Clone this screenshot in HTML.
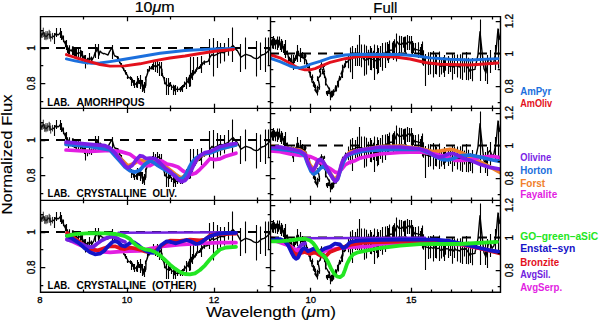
<!DOCTYPE html>
<html><head><meta charset="utf-8"><title>spectra</title>
<style>html,body{margin:0;padding:0;background:#fff;width:600px;height:321px;overflow:hidden}
svg{display:block}</style></head>
<body>
<svg width="600" height="321" viewBox="0 0 600 321">
<rect width="600" height="321" fill="#fff"/>
<defs>
<clipPath id="cl0"><rect x="40" y="16" width="230" height="92"/></clipPath>
<clipPath id="cr0"><rect x="270" y="16" width="230" height="92"/></clipPath>
<clipPath id="cl1"><rect x="40" y="108" width="230" height="92"/></clipPath>
<clipPath id="cr1"><rect x="270" y="108" width="230" height="92"/></clipPath>
<clipPath id="cl2"><rect x="40" y="200" width="230" height="92"/></clipPath>
<clipPath id="cr2"><rect x="270" y="200" width="230" height="92"/></clipPath>
</defs>
<line x1="40" y1="48.0" x2="270" y2="48.0" stroke="#000" stroke-width="2" stroke-dasharray="9 7"/>
<line x1="270" y1="53.6" x2="500" y2="53.6" stroke="#000" stroke-width="2" stroke-dasharray="9 7"/>
<line x1="40" y1="140.0" x2="270" y2="140.0" stroke="#000" stroke-width="2" stroke-dasharray="9 7"/>
<line x1="270" y1="145.6" x2="500" y2="145.6" stroke="#000" stroke-width="2" stroke-dasharray="9 7"/>
<line x1="40" y1="232.0" x2="270" y2="232.0" stroke="#000" stroke-width="2" stroke-dasharray="9 7"/>
<line x1="270" y1="237.6" x2="500" y2="237.6" stroke="#000" stroke-width="2" stroke-dasharray="9 7"/>
<g clip-path="url(#cl0)">
<path d="M40.0 31.5 L40.0 33.0 L41.6 35.3 L42.0 35.0 L43.3 32.4 L44.0 33.0 L44.7 36.0 L46.0 36.0 L46.0 36.7 L47.7 35.3 L48.0 34.0 L49.2 34.1 L50.0 36.0 L50.7 37.6 L52.0 37.0 L52.5 36.2 L53.5 37.0" fill="none" stroke="#000" stroke-width="1.2" stroke-linejoin="round"/>
<path d="M53.5 37.0 L54.0 36.0 L56.0 34.0 L56.1 33.5 L58.0 35.0 L59.0 34.3 L60.0 33.0 L62.0 35.8 L62.0 36.0 L63.0 38.9 L63.6 40.3 L65.3 44.0 L65.7 43.9 L67.1 49.1 L67.9 51.0 L68.0 51.7 L69.9 49.6 L70.0 50.3 L72.0 51.0 L72.0 49.5 L73.6 50.8 L75.0 52.0 L75.0 52.4 L76.7 53.9 L78.0 53.0 L78.9 52.7 L80.3 53.1 L81.0 54.5 L81.9 53.5 L83.0 56.0 L84.0 58.6 L85.0 58.4 L85.8 59.2 L87.7 61.0 L88.0 59.5 L89.7 57.6 L90.0 58.4 L91.5 59.8 L92.0 58.7 L92.0 60.1 L94.0 56.2 L95.2 52.3 L96.0 51.7 L97.5 47.8 L98.1 51.3 L99.0 55.0 L100.0 51.1 L101.4 52.6 L103.8 53.8 L104.0 53.4 L106.5 54.3 L108.0 55.0 L109.3 52.1 L112.0 47.5 L112.2 48.4 L114.0 54.5 L115.0 56.2 L116.0 56.2 L117.7 57.6 L118.0 57.0 L119.3 61.3 L120.0 62.5 L121.2 65.0 L122.0 67.0 L123.9 69.0 L124.0 70.2 L125.4 72.2 L126.0 74.1 L126.3 73.5 L128.0 76.5 L127.5 77.4 L130.3 78.2 L130.0 78.0 L131.7 78.8 L132.6 80.7 L133.0 81.2 L134.0 83.5 L133.8 82.9 L136.0 84.3 L136.3 84.6 L138.0 80.4 L138.7 80.7 L139.0 83.5 L139.7 82.0 L141.0 80.4 L141.6 81.7 L142.0 85.8 L143.0 87.4 L143.9 87.0 L144.0 90.5 L145.0 85.0 L145.7 85.4 L146.0 79.6 L145.9 78.4 L147.0 75.0 L148.0 71.8 L148.0 71.7 L149.4 68.7 L150.0 68.7 L151.1 67.8 L152.0 66.4 L152.4 66.8 L154.0 65.6 L155.4 66.7 L156.0 66.4 L155.8 66.9 L157.9 64.9 L158.0 64.8 L159.0 65.0 L160.0 66.4 L161.9 69.4 L162.0 73.6 L162.2 74.7 L164.1 78.8 L164.0 78.6 L164.8 82.0 L166.0 84.3 L166.4 84.8 L168.0 85.7 L169.1 85.1 L170.0 82.9 L170.3 84.0 L171.9 87.4 L172.0 86.9 L173.6 87.2 L174.0 88.1 L174.8 88.5 L176.0 89.4 L177.4 89.1 L178.0 89.4 L177.6 89.2 L180.4 89.5 L180.0 88.5 L181.0 88.1 L182.0 87.9 L183.4 86.0 L184.0 85.7 L184.9 84.3 L185.0 84.3 L186.0 82.9 L188.0 81.4 L188.0 79.3 L189.5 77.0 L190.0 77.1 L191.2 75.6 L192.0 75.7 L192.3 75.1 L193.2 73.3 L194.0 73.6 L195.1 71.4 L196.0 70.7 L196.2 69.6 L198.0 68.6 L199.2 67.6 L200.0 66.4 L200.8 66.3 L202.0 63.6 L202.7 63.9 L204.1 62.6 L204.0 61.4 L204.5 62.2 L205.0 61.9 L206.0 62.0 L208.0 61.4 L208.6 60.5 L210.0 57.0 L212.0 54.3 L212.2 54.9 L214.0 55.7 L216.8 54.4 L218.0 53.6 L220.4 52.4 L224.0 52.9 L224.2 52.1 L227.9 50.6 L229.0 49.3 L232.7 45.8 L233.0 45.5 L236.6 50.2 L237.0 50.0 L240.7 56.6 L241.0 57.1 L245.3 54.5 L246.0 54.3 L250.0 55.6 L251.0 56.0 L253.6 57.8 L256.0 58.6 L258.3 58.1 L260.0 56.5 L261.8 55.0 L264.0 54.3 L266.2 53.0 L269.8 49.6 L270.0 48.6" fill="none" stroke="#000" stroke-width="1.4" stroke-linejoin="round"/>
<path d="M54.5 33.0V44.0 M56.5 28.0V37.0 M60.5 28.0V38.0 M61.5 31.0V40.0 M66.5 40.0V50.0 M72.5 47.0V55.0 M74.5 48.0V56.0 M76.5 48.0V56.0 M78.5 49.0V57.0 M80.5 50.0V58.0 M82.5 51.0V59.0 M85.5 55.0V68.6 M95.5 44.0V58.0 M98.5 44.0V59.0 M112.5 45.0V59.0 M131.5 78.0V86.0 M134.5 80.0V88.0 M137.5 76.0V88.0 M140.5 75.0V89.0 M142.5 80.0V92.0 M144.5 82.0V93.0 M153.5 60.0V70.0 M155.5 62.0V72.0 M157.5 60.0V73.0 M159.5 62.0V76.0 M161.5 62.0V76.0 M166.5 78.0V95.0 M168.5 78.0V95.0 M173.5 85.0V95.0 M175.5 85.0V95.0 M182.5 85.0V92.0 M186.5 77.0V89.0 M189.5 75.0V87.0 M192.5 70.0V80.0 M190.5 57.0V86.4 M193.5 57.0V75.0 M197.5 57.0V68.0 M201.5 56.0V73.0 M209.5 39.0V65.0 M213.5 38.0V76.4 M217.5 41.0V67.9 M220.5 43.0V63.6 M224.5 43.0V61.4 M228.5 38.0V55.7 M232.5 27.4V62.1 M240.5 43.9V72.0 M245.5 37.4V69.3 M256.5 41.0V76.4 M260.5 42.4V70.0 M265.5 37.4V72.0 M268.5 37.4V65.0 M63.5 35.5V42.2 M65.5 40.7V47.3 M67.5 45.2V52.9 M68.5 47.5V56.0 M69.5 45.2V53.9 M72.5 46.3V52.7 M73.5 46.4V55.2 M75.5 48.4V56.4 M76.5 50.5V57.4 M78.5 49.1V56.4 M80.5 49.4V56.8 M81.5 50.6V56.4 M84.5 55.3V61.9 M85.5 55.7V62.8 M87.5 57.7V64.2 M89.5 53.0V62.3 M91.5 56.6V63.0 M117.5 55.9V59.3 M119.5 59.3V63.3 M121.5 63.1V66.8 M123.5 67.4V70.6 M125.5 70.1V74.2 M126.5 71.9V75.1 M127.5 75.6V79.1 M130.5 76.3V80.1 M131.5 77.0V80.6 M132.5 78.7V82.7 M133.5 80.0V85.8 M136.5 81.8V87.5 M138.5 78.0V83.4 M139.5 80.1V83.9 M141.5 79.9V83.5 M143.5 84.5V89.5 M145.5 83.2V87.7 M145.5 76.6V80.2 M147.5 68.9V74.6 M149.5 65.9V71.4 M151.5 66.2V69.5 M152.5 64.1V69.4 M155.5 65.3V68.0 M155.5 65.1V68.6 M157.5 62.8V67.0 M159.5 63.5V66.5 M161.5 66.6V72.1 M162.5 72.9V76.6 M164.5 76.9V80.7 M164.5 79.8V84.3 M166.5 83.2V86.4 M169.5 83.1V87.0 M170.5 82.1V85.9 M171.5 84.9V89.9 M173.5 84.8V89.7 M174.5 85.7V91.3 M177.5 86.5V91.7 M177.5 86.5V91.9 M180.5 87.0V91.9 M181.5 85.9V90.4 M183.5 84.6V87.4 M184.5 82.7V85.9 M184.5 81.6V87.0 M188.5 79.1V83.6 M189.5 74.8V79.1 M191.5 72.7V78.4 M192.5 72.4V77.8 M193.5 70.9V75.6 M195.5 69.4V73.4 M196.5 67.5V71.7 M199.5 66.0V69.1 M200.5 64.2V68.5 M202.5 62.3V65.4 M204.5 60.5V64.8 M204.5 60.5V64.0" stroke="#000" stroke-width="1.1" fill="none"/>
<path d="M42.0 30.0V38.0 M46.0 31.0V39.0 M50.0 31.0V39.0 M40.0 28.5V34.6 M41.6 33.1V37.4 M43.3 27.7V37.1 M44.7 32.2V39.8 M46.0 33.2V40.2 M47.7 31.2V39.4 M49.2 29.8V38.5 M50.7 33.6V41.6 M52.5 32.9V39.4" stroke="#1a1a1a" stroke-width="0.9" fill="none"/>
</g>
<g clip-path="url(#cr0)">
<path d="M270.0 43.9 L270.0 43.0 L271.2 42.9 L272.0 40.0 L272.2 43.5 L273.0 42.3 L274.0 45.0 L274.0 41.5 L275.2 44.5 L276.0 41.0 L276.1 42.0 L277.2 42.0 L278.0 46.0 L278.4 43.8 L279.4 41.1 L280.0 42.0 L280.6 46.6 L281.5 44.0 L282.0 48.0 L282.5 44.3 L283.4 49.5 L284.0 48.0 L284.0 47.0 L285.0 53.1 L285.0 52.0 L286.3 52.6 L287.3 52.7 L288.0 55.0 L288.6 58.5 L289.7 58.9 L290.0 60.8 L290.0 59.3 L291.5 58.9 L292.0 61.4 L293.0 65.7 L293.0 64.7 L294.3 60.3 L295.0 58.6 L295.4 58.2 L296.4 55.9 L297.0 51.4 L297.6 53.2 L298.9 53.2 L299.0 55.7 L300.2 56.2 L301.0 53.6 L301.7 55.4 L303.0 55.2 L303.0 57.0 L304.2 58.9 L305.9 55.9 L305.0 56.0 L304.3 58.4 L306.0 60.0 L307.2 65.5 L306.5 63.3 L307.5 66.0 L309.5 68.6 L309.0 72.0 L310.3 73.7 L310.0 74.3 L310.5 77.0 L312.7 77.2 L312.0 78.3 L312.0 82.0 L313.9 83.4 L313.5 86.0 L314.1 85.1 L315.8 87.6 L315.0 90.0 L317.1 93.1 L317.4 89.1 L316.5 91.5 L317.8 91.7 L317.9 90.7 L318.0 88.0 L319.5 87.0 L319.0 83.0 L317.9 78.6 L320.0 76.0 L320.8 73.8 L319.6 70.7 L321.0 69.0 L320.1 66.3 L322.0 65.0 L321.6 64.9 L324.5 65.2 L323.0 67.0 L323.3 67.9 L324.5 72.0 L322.7 71.6 L324.6 75.7 L326.0 79.0 L325.9 81.8 L325.6 83.0 L327.5 86.0 L329.7 90.1 L326.6 92.8 L329.0 92.0 L328.0 93.4 L330.1 93.5 L330.5 94.5 L330.6 96.9 L332.0 93.5 L331.1 94.1 L332.1 93.8 L333.5 95.0 L333.5 93.4 L333.6 92.1 L335.0 91.0 L335.5 87.2 L335.3 89.5 L336.2 89.0 L337.0 86.0 L338.2 84.5 L337.7 83.2 L339.0 80.0 L339.3 78.2 L340.3 78.6 L342.3 74.7 L341.0 74.0 L342.6 69.9 L342.8 72.0 L343.0 69.0 L342.8 67.8 L345.3 65.6 L344.6 66.0 L345.0 64.5 L344.3 65.8 L345.9 62.1 L347.0 61.5 L345.7 63.0 L348.0 61.4 L349.0 59.5 L350.5 59.8 L351.0 58.0 L352.4 58.3 L353.0 57.0 L355.1 56.9 L356.0 55.9 L357.8 54.8 L359.8 56.1 L360.0 55.7 L362.0 55.9 L363.0 57.9 L364.5 60.1 L366.0 60.0 L366.6 60.1 L368.8 57.7 L370.0 58.6 L371.2 59.1 L373.6 59.4 L375.0 60.7 L376.2 60.4 L378.3 60.5 L380.0 59.3 L380.8 57.3 L382.7 56.8 L385.0 53.8 L385.0 54.3 L387.5 51.2 L390.0 49.9 L390.0 50.7 L392.4 49.9 L394.6 46.6 L395.0 47.1 L396.8 42.0 L397.0 41.7 L399.2 44.5 L400.0 44.3 L401.5 44.4 L403.7 42.6 L405.0 43.6 L405.6 44.5 L407.4 42.6 L409.7 41.7 L410.0 41.7 L411.6 44.8 L413.0 48.0 L413.6 47.9 L415.0 50.0 L415.7 49.3 L418.4 50.1 L420.0 50.7 L420.9 51.9 L422.0 52.9 L423.0 55.0 L424.0 58.0 L425.0 62.9 L425.9 62.9 L428.0 63.7 L430.0 64.3 L430.5 63.2 L433.2 64.3 L435.0 63.6 L435.1 62.3 L437.0 64.6 L439.1 64.1 L440.0 65.7 L441.4 66.8 L443.3 64.9 L445.0 65.0 L445.5 64.6 L448.3 64.9 L450.0 66.4 L450.6 65.1 L452.9 67.3 L455.0 64.3 L455.0 65.7 L457.3 66.0 L460.0 67.1 L460.0 66.5 L462.0 64.8 L464.6 65.5 L465.0 64.3 L466.5 65.7 L468.9 69.1 L470.0 71.4 L470.8 70.1 L472.7 69.7 L475.0 69.4 L475.0 68.6 L477.8 55.6 L478.0 54.3 L480.0 31.7 L480.6 37.7 L482.0 51.4 L483.3 63.0 L484.0 68.6 L486.0 72.9 L486.1 72.0 L488.0 61.4 L488.2 60.5 L490.0 58.6 L490.9 60.6 L492.0 64.3 L493.6 62.1 L494.0 61.4 L495.7 52.3 L496.0 51.4 L498.0 29.0 L498.5 32.8 L500.0 40.0" fill="none" stroke="#000" stroke-width="1.4" stroke-linejoin="round"/>
<path d="M273.5 36.0V49.0 M277.5 37.0V50.0 M281.5 39.0V52.0 M285.5 40.0V58.0 M293.5 55.0V70.0 M297.5 45.0V62.0 M300.5 48.0V62.0 M352.5 46.0V79.0 M357.5 45.0V66.0 M359.5 35.0V66.0 M364.5 44.6V75.7 M370.5 46.0V70.0 M374.5 44.6V80.0 M377.5 45.3V74.3 M380.5 46.0V67.0 M385.5 42.4V67.9 M388.5 43.9V62.9 M393.5 41.0V60.0 M396.5 34.0V61.4 M399.5 39.6V55.0 M401.5 36.0V52.0 M404.5 36.7V52.0 M409.5 36.0V50.0 M412.5 41.0V55.0 M415.5 43.0V54.0 M418.5 43.0V56.0 M421.5 44.0V57.0 M425.5 54.0V86.0 M435.5 53.0V74.0 M444.5 55.0V77.0 M452.5 54.0V78.0 M462.5 53.0V80.0 M466.5 52.0V80.0 M480.5 19.6V81.0 M485.5 60.0V81.0 M487.5 55.0V84.0 M490.5 50.0V73.0 M495.5 45.0V70.0 M498.5 29.0V68.6 M270.5 39.1V48.6 M271.5 40.4V45.4 M272.5 38.4V48.6 M273.5 38.3V46.3 M274.5 38.3V44.8 M275.5 39.7V49.2 M276.5 39.6V44.4 M277.5 36.6V47.3 M278.5 39.8V47.8 M279.5 36.6V45.5 M280.5 43.1V50.1 M281.5 40.7V47.3 M282.5 40.8V47.7 M283.5 46.2V52.9 M284.5 44.0V52.0 M284.5 51.3V54.9 M286.5 50.8V54.5 M287.5 50.5V54.9 M288.5 55.9V61.0 M289.5 56.8V60.9 M290.5 58.3V63.3 M291.5 54.6V63.1 M293.5 60.7V68.8 M294.5 57.7V63.0 M295.5 55.3V61.1 M296.5 52.3V59.5 M297.5 49.4V56.9 M298.5 50.7V55.7 M300.5 51.6V60.8 M301.5 52.7V58.1 M302.5 51.9V58.5 M304.5 53.6V64.2 M305.5 53.5V58.3 M304.5 56.1V60.6 M307.5 63.1V68.0 M306.5 60.3V66.3 M309.5 65.6V71.5 M310.5 71.5V75.9 M310.5 71.4V77.2 M312.5 74.5V80.0 M311.5 76.3V80.3 M313.5 80.7V86.2 M314.5 82.3V88.0 M315.5 84.4V90.7 M317.5 90.7V95.6 M317.5 85.8V92.3 M317.5 88.9V94.6 M317.5 87.9V93.4 M319.5 84.3V89.7 M317.5 76.2V80.9 M320.5 71.1V76.5 M319.5 69.1V72.3 M320.5 64.4V68.1 M321.5 62.3V67.6 M324.5 63.7V66.7 M323.5 66.2V69.6 M322.5 68.9V74.2 M324.5 73.1V78.3 M325.5 78.7V84.8 M325.5 80.4V85.6 M329.5 87.5V92.8 M326.5 91.1V94.5 M327.5 90.7V96.1 M330.5 91.6V95.4 M330.5 93.6V100.2 M331.5 90.8V97.4 M332.5 90.5V97.2 M333.5 91.7V95.2 M333.5 89.2V95.1 M335.5 85.2V89.2 M335.5 87.5V91.5 M336.5 86.3V91.6 M338.5 81.6V87.4 M337.5 80.7V85.7 M339.5 75.8V80.5 M340.5 77.0V80.2 M342.5 71.5V77.9 M342.5 67.6V72.2 M342.5 69.6V74.4 M342.5 64.7V70.9 M345.5 64.0V67.3 M344.5 63.9V68.0 M344.5 63.4V68.2 M345.5 60.4V63.9 M345.5 61.0V64.9 M348.5 54.6V68.2 M350.5 47.4V72.2 M352.5 46.4V70.3 M355.5 47.9V65.9 M357.5 44.7V64.8 M359.5 48.6V63.6 M361.5 44.5V67.2 M364.5 49.9V70.2 M366.5 45.7V74.4 M368.5 49.8V65.5 M371.5 48.0V70.3 M373.5 50.7V68.1 M376.5 51.9V69.0 M378.5 48.0V73.0 M380.5 49.9V64.6 M382.5 43.0V70.7 M385.5 49.4V58.1 M387.5 42.0V60.4 M389.5 40.6V59.2 M392.5 42.4V57.4 M394.5 39.2V54.0 M396.5 33.5V50.6 M399.5 35.8V53.2 M401.5 36.3V52.5 M403.5 37.3V47.8 M405.5 36.4V52.7 M407.5 35.1V50.0 M409.5 36.7V46.7 M411.5 36.0V53.6 M413.5 42.8V52.9 M415.5 44.9V53.7 M418.5 42.3V57.9 M420.5 47.1V56.7 M422.5 41.5V64.4 M423.5 50.3V65.7 M425.5 54.1V71.6 M428.5 52.2V75.1 M430.5 52.2V74.3 M433.5 51.0V77.6 M435.5 53.2V71.4 M436.5 54.7V74.5 M439.5 51.4V76.9 M441.5 59.0V74.6 M443.5 57.0V72.8 M445.5 58.3V70.8 M448.5 55.9V74.0 M450.5 58.3V71.9 M452.5 54.8V79.7 M454.5 54.6V73.9 M457.5 54.5V77.4 M460.5 54.3V78.7 M462.5 58.1V71.5 M464.5 58.5V72.5 M466.5 56.5V74.9 M468.5 57.8V80.3 M470.5 61.3V78.9 M472.5 58.0V81.3" stroke="#000" stroke-width="1.1" fill="none"/>
<path d="" stroke="#1a1a1a" stroke-width="0.9" fill="none"/>
</g>
<g clip-path="url(#cl1)">
<path d="M40.0 123.5 L40.0 125.0 L41.6 127.3 L42.0 127.0 L43.3 124.4 L44.0 125.0 L44.7 128.0 L46.0 128.0 L46.0 128.7 L47.7 127.3 L48.0 126.0 L49.2 126.1 L50.0 128.0 L50.7 129.6 L52.0 129.0 L52.5 128.2 L53.5 129.0" fill="none" stroke="#000" stroke-width="1.2" stroke-linejoin="round"/>
<path d="M53.5 129.0 L54.0 128.0 L56.0 126.0 L56.1 125.5 L58.0 127.0 L59.0 126.3 L60.0 125.0 L62.0 127.8 L62.0 128.0 L63.0 130.9 L63.6 132.3 L65.3 136.0 L65.7 135.9 L67.1 141.1 L67.9 143.0 L68.0 143.7 L69.9 141.6 L70.0 142.3 L72.0 143.0 L72.0 141.5 L73.6 142.8 L75.0 144.0 L75.0 144.4 L76.7 145.9 L78.0 145.0 L78.9 144.7 L80.3 145.1 L81.0 146.5 L81.9 145.5 L83.0 148.0 L84.0 150.6 L85.0 150.4 L85.8 151.2 L87.7 153.0 L88.0 151.5 L89.7 149.6 L90.0 150.4 L91.5 151.8 L92.0 150.7 L92.0 152.1 L94.0 148.2 L95.2 144.3 L96.0 143.7 L97.5 139.8 L98.1 143.3 L99.0 147.0 L100.0 143.1 L101.4 144.6 L103.8 145.8 L104.0 145.4 L106.5 146.3 L108.0 147.0 L109.3 144.1 L112.0 139.5 L112.2 140.4 L114.0 146.5 L115.0 148.2 L116.0 148.2 L117.7 149.6 L118.0 149.0 L119.3 153.3 L120.0 154.5 L121.2 157.0 L122.0 159.0 L123.9 161.0 L124.0 162.2 L125.4 164.2 L126.0 166.1 L126.3 165.5 L128.0 168.5 L127.5 169.4 L130.3 170.2 L130.0 170.0 L131.7 170.8 L132.6 172.7 L133.0 173.2 L134.0 175.5 L133.8 174.9 L136.0 176.3 L136.3 176.6 L138.0 172.4 L138.7 172.7 L139.0 175.5 L139.7 174.0 L141.0 172.4 L141.6 173.7 L142.0 177.8 L143.0 179.4 L143.9 179.0 L144.0 182.5 L145.0 177.0 L145.7 177.4 L146.0 171.6 L145.9 170.4 L147.0 167.0 L148.0 163.8 L148.0 163.7 L149.4 160.7 L150.0 160.7 L151.1 159.8 L152.0 158.4 L152.4 158.8 L154.0 157.6 L155.4 158.7 L156.0 158.4 L155.8 158.9 L157.9 156.9 L158.0 156.8 L159.0 157.0 L160.0 158.4 L161.9 161.4 L162.0 165.6 L162.2 166.7 L164.1 170.8 L164.0 170.6 L164.8 174.0 L166.0 176.3 L166.4 176.8 L168.0 177.7 L169.1 177.1 L170.0 174.9 L170.3 176.0 L171.9 179.4 L172.0 178.9 L173.6 179.2 L174.0 180.1 L174.8 180.5 L176.0 181.4 L177.4 181.1 L178.0 181.4 L177.6 181.2 L180.4 181.5 L180.0 180.5 L181.0 180.1 L182.0 179.9 L183.4 178.0 L184.0 177.7 L184.9 176.3 L185.0 176.3 L186.0 174.9 L188.0 173.4 L188.0 171.3 L189.5 169.0 L190.0 169.1 L191.2 167.6 L192.0 167.7 L192.3 167.1 L193.2 165.3 L194.0 165.6 L195.1 163.4 L196.0 162.7 L196.2 161.6 L198.0 160.6 L199.2 159.6 L200.0 158.4 L200.8 158.3 L202.0 155.6 L202.7 155.9 L204.1 154.6 L204.0 153.4 L204.5 154.2 L205.0 153.9 L206.0 154.0 L208.0 153.4 L208.6 152.5 L210.0 149.0 L212.0 146.3 L212.2 146.9 L214.0 147.7 L216.8 146.4 L218.0 145.6 L220.4 144.4 L224.0 144.9 L224.2 144.1 L227.9 142.6 L229.0 141.3 L232.7 137.8 L233.0 137.5 L236.6 142.2 L237.0 142.0 L240.7 148.6 L241.0 149.1 L245.3 146.5 L246.0 146.3 L250.0 147.6 L251.0 148.0 L253.6 149.8 L256.0 150.6 L258.3 150.1 L260.0 148.5 L261.8 147.0 L264.0 146.3 L266.2 145.0 L269.8 141.6 L270.0 140.6" fill="none" stroke="#000" stroke-width="1.4" stroke-linejoin="round"/>
<path d="M54.5 125.0V136.0 M56.5 120.0V129.0 M60.5 120.0V130.0 M61.5 123.0V132.0 M66.5 132.0V142.0 M72.5 139.0V147.0 M74.5 140.0V148.0 M76.5 140.0V148.0 M78.5 141.0V149.0 M80.5 142.0V150.0 M82.5 143.0V151.0 M85.5 147.0V160.6 M95.5 136.0V150.0 M98.5 136.0V151.0 M112.5 137.0V151.0 M131.5 170.0V178.0 M134.5 172.0V180.0 M137.5 168.0V180.0 M140.5 167.0V181.0 M142.5 172.0V184.0 M144.5 174.0V185.0 M153.5 152.0V162.0 M155.5 154.0V164.0 M157.5 152.0V165.0 M159.5 154.0V168.0 M161.5 154.0V168.0 M166.5 170.0V187.0 M168.5 170.0V187.0 M173.5 177.0V187.0 M175.5 177.0V187.0 M182.5 177.0V184.0 M186.5 169.0V181.0 M189.5 167.0V179.0 M192.5 162.0V172.0 M190.5 149.0V178.4 M193.5 149.0V167.0 M197.5 149.0V160.0 M201.5 148.0V165.0 M209.5 131.0V157.0 M213.5 130.0V168.4 M217.5 133.0V159.9 M220.5 135.0V155.6 M224.5 135.0V153.4 M228.5 130.0V147.7 M232.5 119.4V154.1 M240.5 135.9V164.0 M245.5 129.4V161.3 M256.5 133.0V168.4 M260.5 134.4V162.0 M265.5 129.4V164.0 M268.5 129.4V157.0 M63.5 127.5V134.2 M65.5 132.7V139.3 M67.5 137.2V144.9 M68.5 139.5V148.0 M69.5 137.2V145.9 M72.5 138.3V144.7 M73.5 138.4V147.2 M75.5 140.4V148.4 M76.5 142.5V149.4 M78.5 141.1V148.4 M80.5 141.4V148.8 M81.5 142.6V148.4 M84.5 147.3V153.9 M85.5 147.7V154.8 M87.5 149.7V156.2 M89.5 145.0V154.3 M91.5 148.6V155.0 M117.5 147.9V151.3 M119.5 151.3V155.3 M121.5 155.1V158.8 M123.5 159.4V162.6 M125.5 162.1V166.2 M126.5 163.9V167.1 M127.5 167.6V171.1 M130.5 168.3V172.1 M131.5 169.0V172.6 M132.5 170.7V174.7 M133.5 172.0V177.8 M136.5 173.8V179.5 M138.5 170.0V175.4 M139.5 172.1V175.9 M141.5 171.9V175.5 M143.5 176.5V181.5 M145.5 175.2V179.7 M145.5 168.6V172.2 M147.5 160.9V166.6 M149.5 157.9V163.4 M151.5 158.2V161.5 M152.5 156.1V161.4 M155.5 157.3V160.0 M155.5 157.1V160.6 M157.5 154.8V159.0 M159.5 155.5V158.5 M161.5 158.6V164.1 M162.5 164.9V168.6 M164.5 168.9V172.7 M164.5 171.8V176.3 M166.5 175.2V178.4 M169.5 175.1V179.0 M170.5 174.1V177.9 M171.5 176.9V181.9 M173.5 176.8V181.7 M174.5 177.7V183.3 M177.5 178.5V183.7 M177.5 178.5V183.9 M180.5 179.0V183.9 M181.5 177.9V182.4 M183.5 176.6V179.4 M184.5 174.7V177.9 M184.5 173.6V179.0 M188.5 171.1V175.6 M189.5 166.8V171.1 M191.5 164.7V170.4 M192.5 164.4V169.8 M193.5 162.9V167.6 M195.5 161.4V165.4 M196.5 159.5V163.7 M199.5 158.0V161.1 M200.5 156.2V160.5 M202.5 154.3V157.4 M204.5 152.5V156.8 M204.5 152.5V156.0" stroke="#000" stroke-width="1.1" fill="none"/>
<path d="M42.0 122.0V130.0 M46.0 123.0V131.0 M50.0 123.0V131.0 M40.0 120.5V126.6 M41.6 125.1V129.4 M43.3 119.7V129.1 M44.7 124.2V131.8 M46.0 125.2V132.2 M47.7 123.2V131.4 M49.2 121.8V130.5 M50.7 125.6V133.6 M52.5 124.9V131.4" stroke="#1a1a1a" stroke-width="0.9" fill="none"/>
</g>
<g clip-path="url(#cr1)">
<path d="M270.0 135.9 L270.0 135.0 L271.2 134.9 L272.0 132.0 L272.2 135.5 L273.0 134.3 L274.0 137.0 L274.0 133.5 L275.2 136.5 L276.0 133.0 L276.1 134.0 L277.2 134.0 L278.0 138.0 L278.4 135.8 L279.4 133.1 L280.0 134.0 L280.6 138.6 L281.5 136.0 L282.0 140.0 L282.5 136.3 L283.4 141.5 L284.0 140.0 L284.0 139.0 L285.0 145.1 L285.0 144.0 L286.3 144.6 L287.3 144.7 L288.0 147.0 L288.6 150.5 L289.7 150.9 L290.0 152.8 L290.0 151.3 L291.5 150.9 L292.0 153.4 L293.0 157.7 L293.0 156.7 L294.3 152.3 L295.0 150.6 L295.4 150.2 L296.4 147.9 L297.0 143.4 L297.6 145.2 L298.9 145.2 L299.0 147.7 L300.2 148.2 L301.0 145.6 L301.7 147.4 L303.0 147.2 L303.0 149.0 L304.2 150.9 L305.9 147.9 L305.0 148.0 L304.3 150.4 L306.0 152.0 L307.2 157.5 L306.5 155.3 L307.5 158.0 L309.5 160.6 L309.0 164.0 L310.3 165.7 L310.0 166.3 L310.5 169.0 L312.7 169.2 L312.0 170.3 L312.0 174.0 L313.9 175.4 L313.5 178.0 L314.1 177.1 L315.8 179.6 L315.0 182.0 L317.1 185.1 L317.4 181.1 L316.5 183.5 L317.8 183.7 L317.9 182.7 L318.0 180.0 L319.5 179.0 L319.0 175.0 L317.9 170.6 L320.0 168.0 L320.8 165.8 L319.6 162.7 L321.0 161.0 L320.1 158.3 L322.0 157.0 L321.6 156.9 L324.5 157.2 L323.0 159.0 L323.3 159.9 L324.5 164.0 L322.7 163.6 L324.6 167.7 L326.0 171.0 L325.9 173.8 L325.6 175.0 L327.5 178.0 L329.7 182.1 L326.6 184.8 L329.0 184.0 L328.0 185.4 L330.1 185.5 L330.5 186.5 L330.6 188.9 L332.0 185.5 L331.1 186.1 L332.1 185.8 L333.5 187.0 L333.5 185.4 L333.6 184.1 L335.0 183.0 L335.5 179.2 L335.3 181.5 L336.2 181.0 L337.0 178.0 L338.2 176.5 L337.7 175.2 L339.0 172.0 L339.3 170.2 L340.3 170.6 L342.3 166.7 L341.0 166.0 L342.6 161.9 L342.8 164.0 L343.0 161.0 L342.8 159.8 L345.3 157.6 L344.6 158.0 L345.0 156.5 L344.3 157.8 L345.9 154.1 L347.0 153.5 L345.7 155.0 L348.0 153.4 L349.0 151.5 L350.5 151.8 L351.0 150.0 L352.4 150.3 L353.0 149.0 L355.1 148.9 L356.0 147.9 L357.8 146.8 L359.8 148.1 L360.0 147.7 L362.0 147.9 L363.0 149.9 L364.5 152.1 L366.0 152.0 L366.6 152.1 L368.8 149.7 L370.0 150.6 L371.2 151.1 L373.6 151.4 L375.0 152.7 L376.2 152.4 L378.3 152.5 L380.0 151.3 L380.8 149.3 L382.7 148.8 L385.0 145.8 L385.0 146.3 L387.5 143.2 L390.0 141.9 L390.0 142.7 L392.4 141.9 L394.6 138.6 L395.0 139.1 L396.8 134.0 L397.0 133.7 L399.2 136.5 L400.0 136.3 L401.5 136.4 L403.7 134.6 L405.0 135.6 L405.6 136.5 L407.4 134.6 L409.7 133.7 L410.0 133.7 L411.6 136.8 L413.0 140.0 L413.6 139.9 L415.0 142.0 L415.7 141.3 L418.4 142.1 L420.0 142.7 L420.9 143.9 L422.0 144.9 L423.0 147.0 L424.0 150.0 L425.0 154.9 L425.9 154.9 L428.0 155.7 L430.0 156.3 L430.5 155.2 L433.2 156.3 L435.0 155.6 L435.1 154.3 L437.0 156.6 L439.1 156.1 L440.0 157.7 L441.4 158.8 L443.3 156.9 L445.0 157.0 L445.5 156.6 L448.3 156.9 L450.0 158.4 L450.6 157.1 L452.9 159.3 L455.0 156.3 L455.0 157.7 L457.3 158.0 L460.0 159.1 L460.0 158.5 L462.0 156.8 L464.6 157.5 L465.0 156.3 L466.5 157.7 L468.9 161.1 L470.0 163.4 L470.8 162.1 L472.7 161.7 L475.0 161.4 L475.0 160.6 L477.8 147.6 L478.0 146.3 L480.0 123.7 L480.6 129.7 L482.0 143.4 L483.3 155.0 L484.0 160.6 L486.0 164.9 L486.1 164.0 L488.0 153.4 L488.2 152.5 L490.0 150.6 L490.9 152.6 L492.0 156.3 L493.6 154.1 L494.0 153.4 L495.7 144.3 L496.0 143.4 L498.0 121.0 L498.5 124.8 L500.0 132.0" fill="none" stroke="#000" stroke-width="1.4" stroke-linejoin="round"/>
<path d="M273.5 128.0V141.0 M277.5 129.0V142.0 M281.5 131.0V144.0 M285.5 132.0V150.0 M293.5 147.0V162.0 M297.5 137.0V154.0 M300.5 140.0V154.0 M352.5 138.0V171.0 M357.5 137.0V158.0 M359.5 127.0V158.0 M364.5 136.6V167.7 M370.5 138.0V162.0 M374.5 136.6V172.0 M377.5 137.3V166.3 M380.5 138.0V159.0 M385.5 134.4V159.9 M388.5 135.9V154.9 M393.5 133.0V152.0 M396.5 126.0V153.4 M399.5 131.6V147.0 M401.5 128.0V144.0 M404.5 128.7V144.0 M409.5 128.0V142.0 M412.5 133.0V147.0 M415.5 135.0V146.0 M418.5 135.0V148.0 M421.5 136.0V149.0 M425.5 146.0V178.0 M435.5 145.0V166.0 M444.5 147.0V169.0 M452.5 146.0V170.0 M462.5 145.0V172.0 M466.5 144.0V172.0 M480.5 111.6V173.0 M485.5 152.0V173.0 M487.5 147.0V176.0 M490.5 142.0V165.0 M495.5 137.0V162.0 M498.5 121.0V160.6 M270.5 131.1V140.6 M271.5 132.4V137.4 M272.5 130.4V140.6 M273.5 130.3V138.3 M274.5 130.3V136.8 M275.5 131.7V141.2 M276.5 131.6V136.4 M277.5 128.6V139.3 M278.5 131.8V139.8 M279.5 128.6V137.5 M280.5 135.1V142.1 M281.5 132.7V139.3 M282.5 132.8V139.7 M283.5 138.2V144.9 M284.5 136.0V144.0 M284.5 143.3V146.9 M286.5 142.8V146.5 M287.5 142.5V146.9 M288.5 147.9V153.0 M289.5 148.8V152.9 M290.5 150.3V155.3 M291.5 146.6V155.1 M293.5 152.7V160.8 M294.5 149.7V155.0 M295.5 147.3V153.1 M296.5 144.3V151.5 M297.5 141.4V148.9 M298.5 142.7V147.7 M300.5 143.6V152.8 M301.5 144.7V150.1 M302.5 143.9V150.5 M304.5 145.6V156.2 M305.5 145.5V150.3 M304.5 148.1V152.6 M307.5 155.1V160.0 M306.5 152.3V158.3 M309.5 157.6V163.5 M310.5 163.5V167.9 M310.5 163.4V169.2 M312.5 166.5V172.0 M311.5 168.3V172.3 M313.5 172.7V178.2 M314.5 174.3V180.0 M315.5 176.4V182.7 M317.5 182.7V187.6 M317.5 177.8V184.3 M317.5 180.9V186.6 M317.5 179.9V185.4 M319.5 176.3V181.7 M317.5 168.2V172.9 M320.5 163.1V168.5 M319.5 161.1V164.3 M320.5 156.4V160.1 M321.5 154.3V159.6 M324.5 155.7V158.7 M323.5 158.2V161.6 M322.5 160.9V166.2 M324.5 165.1V170.3 M325.5 170.7V176.8 M325.5 172.4V177.6 M329.5 179.5V184.8 M326.5 183.1V186.5 M327.5 182.7V188.1 M330.5 183.6V187.4 M330.5 185.6V192.2 M331.5 182.8V189.4 M332.5 182.5V189.2 M333.5 183.7V187.2 M333.5 181.2V187.1 M335.5 177.2V181.2 M335.5 179.5V183.5 M336.5 178.3V183.6 M338.5 173.6V179.4 M337.5 172.7V177.7 M339.5 167.8V172.5 M340.5 169.0V172.2 M342.5 163.5V169.9 M342.5 159.6V164.2 M342.5 161.6V166.4 M342.5 156.7V162.9 M345.5 156.0V159.3 M344.5 155.9V160.0 M344.5 155.4V160.2 M345.5 152.4V155.9 M345.5 153.0V156.9 M348.5 146.6V160.2 M350.5 139.4V164.2 M352.5 138.4V162.3 M355.5 139.9V157.9 M357.5 136.7V156.8 M359.5 140.6V155.6 M361.5 136.5V159.2 M364.5 141.9V162.2 M366.5 137.7V166.4 M368.5 141.8V157.5 M371.5 140.0V162.3 M373.5 142.7V160.1 M376.5 143.9V161.0 M378.5 140.0V165.0 M380.5 141.9V156.6 M382.5 135.0V162.7 M385.5 141.4V150.1 M387.5 134.0V152.4 M389.5 132.6V151.2 M392.5 134.4V149.4 M394.5 131.2V146.0 M396.5 125.5V142.6 M399.5 127.8V145.2 M401.5 128.3V144.5 M403.5 129.3V139.8 M405.5 128.4V144.7 M407.5 127.1V142.0 M409.5 128.7V138.7 M411.5 128.0V145.6 M413.5 134.8V144.9 M415.5 136.9V145.7 M418.5 134.3V149.9 M420.5 139.1V148.7 M422.5 133.5V156.4 M423.5 142.3V157.7 M425.5 146.1V163.6 M428.5 144.2V167.1 M430.5 144.2V166.3 M433.5 143.0V169.6 M435.5 145.2V163.4 M436.5 146.7V166.5 M439.5 143.4V168.9 M441.5 151.0V166.6 M443.5 149.0V164.8 M445.5 150.3V162.8 M448.5 147.9V166.0 M450.5 150.3V163.9 M452.5 146.8V171.7 M454.5 146.6V165.9 M457.5 146.5V169.4 M460.5 146.3V170.7 M462.5 150.1V163.5 M464.5 150.5V164.5 M466.5 148.5V166.9 M468.5 149.8V172.3 M470.5 153.3V170.9 M472.5 150.0V173.3" stroke="#000" stroke-width="1.1" fill="none"/>
<path d="" stroke="#1a1a1a" stroke-width="0.9" fill="none"/>
</g>
<g clip-path="url(#cl2)">
<path d="M40.0 215.5 L40.0 217.0 L41.6 219.3 L42.0 219.0 L43.3 216.4 L44.0 217.0 L44.7 220.0 L46.0 220.0 L46.0 220.7 L47.7 219.3 L48.0 218.0 L49.2 218.1 L50.0 220.0 L50.7 221.6 L52.0 221.0 L52.5 220.2 L53.5 221.0" fill="none" stroke="#000" stroke-width="1.2" stroke-linejoin="round"/>
<path d="M53.5 221.0 L54.0 220.0 L56.0 218.0 L56.1 217.5 L58.0 219.0 L59.0 218.3 L60.0 217.0 L62.0 219.8 L62.0 220.0 L63.0 222.9 L63.6 224.3 L65.3 228.0 L65.7 227.9 L67.1 233.1 L67.9 235.0 L68.0 235.7 L69.9 233.6 L70.0 234.3 L72.0 235.0 L72.0 233.5 L73.6 234.8 L75.0 236.0 L75.0 236.4 L76.7 237.9 L78.0 237.0 L78.9 236.7 L80.3 237.1 L81.0 238.5 L81.9 237.5 L83.0 240.0 L84.0 242.6 L85.0 242.4 L85.8 243.2 L87.7 245.0 L88.0 243.5 L89.7 241.6 L90.0 242.4 L91.5 243.8 L92.0 242.7 L92.0 244.1 L94.0 240.2 L95.2 236.3 L96.0 235.7 L97.5 231.8 L98.1 235.3 L99.0 239.0 L100.0 235.1 L101.4 236.6 L103.8 237.8 L104.0 237.4 L106.5 238.3 L108.0 239.0 L109.3 236.1 L112.0 231.5 L112.2 232.4 L114.0 238.5 L115.0 240.2 L116.0 240.2 L117.7 241.6 L118.0 241.0 L119.3 245.3 L120.0 246.5 L121.2 249.0 L122.0 251.0 L123.9 253.0 L124.0 254.2 L125.4 256.2 L126.0 258.1 L126.3 257.5 L128.0 260.5 L127.5 261.4 L130.3 262.2 L130.0 262.0 L131.7 262.8 L132.6 264.7 L133.0 265.2 L134.0 267.5 L133.8 266.9 L136.0 268.3 L136.3 268.6 L138.0 264.4 L138.7 264.7 L139.0 267.5 L139.7 266.0 L141.0 264.4 L141.6 265.7 L142.0 269.8 L143.0 271.4 L143.9 271.0 L144.0 274.5 L145.0 269.0 L145.7 269.4 L146.0 263.6 L145.9 262.4 L147.0 259.0 L148.0 255.8 L148.0 255.7 L149.4 252.7 L150.0 252.7 L151.1 251.8 L152.0 250.4 L152.4 250.8 L154.0 249.6 L155.4 250.7 L156.0 250.4 L155.8 250.9 L157.9 248.9 L158.0 248.8 L159.0 249.0 L160.0 250.4 L161.9 253.4 L162.0 257.6 L162.2 258.7 L164.1 262.8 L164.0 262.6 L164.8 266.0 L166.0 268.3 L166.4 268.8 L168.0 269.7 L169.1 269.1 L170.0 266.9 L170.3 268.0 L171.9 271.4 L172.0 270.9 L173.6 271.2 L174.0 272.1 L174.8 272.5 L176.0 273.4 L177.4 273.1 L178.0 273.4 L177.6 273.2 L180.4 273.5 L180.0 272.5 L181.0 272.1 L182.0 271.9 L183.4 270.0 L184.0 269.7 L184.9 268.3 L185.0 268.3 L186.0 266.9 L188.0 265.4 L188.0 263.3 L189.5 261.0 L190.0 261.1 L191.2 259.6 L192.0 259.7 L192.3 259.1 L193.2 257.3 L194.0 257.6 L195.1 255.4 L196.0 254.7 L196.2 253.6 L198.0 252.6 L199.2 251.6 L200.0 250.4 L200.8 250.3 L202.0 247.6 L202.7 247.9 L204.1 246.6 L204.0 245.4 L204.5 246.2 L205.0 245.9 L206.0 246.0 L208.0 245.4 L208.6 244.5 L210.0 241.0 L212.0 238.3 L212.2 238.9 L214.0 239.7 L216.8 238.4 L218.0 237.6 L220.4 236.4 L224.0 236.9 L224.2 236.1 L227.9 234.6 L229.0 233.3 L232.7 229.8 L233.0 229.5 L236.6 234.2 L237.0 234.0 L240.7 240.6 L241.0 241.1 L245.3 238.5 L246.0 238.3 L250.0 239.6 L251.0 240.0 L253.6 241.8 L256.0 242.6 L258.3 242.1 L260.0 240.5 L261.8 239.0 L264.0 238.3 L266.2 237.0 L269.8 233.6 L270.0 232.6" fill="none" stroke="#000" stroke-width="1.4" stroke-linejoin="round"/>
<path d="M54.5 217.0V228.0 M56.5 212.0V221.0 M60.5 212.0V222.0 M61.5 215.0V224.0 M66.5 224.0V234.0 M72.5 231.0V239.0 M74.5 232.0V240.0 M76.5 232.0V240.0 M78.5 233.0V241.0 M80.5 234.0V242.0 M82.5 235.0V243.0 M85.5 239.0V252.6 M95.5 228.0V242.0 M98.5 228.0V243.0 M112.5 229.0V243.0 M131.5 262.0V270.0 M134.5 264.0V272.0 M137.5 260.0V272.0 M140.5 259.0V273.0 M142.5 264.0V276.0 M144.5 266.0V277.0 M153.5 244.0V254.0 M155.5 246.0V256.0 M157.5 244.0V257.0 M159.5 246.0V260.0 M161.5 246.0V260.0 M166.5 262.0V279.0 M168.5 262.0V279.0 M173.5 269.0V279.0 M175.5 269.0V279.0 M182.5 269.0V276.0 M186.5 261.0V273.0 M189.5 259.0V271.0 M192.5 254.0V264.0 M190.5 241.0V270.4 M193.5 241.0V259.0 M197.5 241.0V252.0 M201.5 240.0V257.0 M209.5 223.0V249.0 M213.5 222.0V260.4 M217.5 225.0V251.9 M220.5 227.0V247.6 M224.5 227.0V245.4 M228.5 222.0V239.7 M232.5 211.4V246.1 M240.5 227.9V256.0 M245.5 221.4V253.3 M256.5 225.0V260.4 M260.5 226.4V254.0 M265.5 221.4V256.0 M268.5 221.4V249.0 M63.5 219.5V226.2 M65.5 224.7V231.3 M67.5 229.2V236.9 M68.5 231.5V240.0 M69.5 229.2V237.9 M72.5 230.3V236.7 M73.5 230.4V239.2 M75.5 232.4V240.4 M76.5 234.5V241.4 M78.5 233.1V240.4 M80.5 233.4V240.8 M81.5 234.6V240.4 M84.5 239.3V245.9 M85.5 239.7V246.8 M87.5 241.7V248.2 M89.5 237.0V246.3 M91.5 240.6V247.0 M117.5 239.9V243.3 M119.5 243.3V247.3 M121.5 247.1V250.8 M123.5 251.4V254.6 M125.5 254.1V258.2 M126.5 255.9V259.1 M127.5 259.6V263.1 M130.5 260.3V264.1 M131.5 261.0V264.6 M132.5 262.7V266.7 M133.5 264.0V269.8 M136.5 265.8V271.5 M138.5 262.0V267.4 M139.5 264.1V267.9 M141.5 263.9V267.5 M143.5 268.5V273.5 M145.5 267.2V271.7 M145.5 260.6V264.2 M147.5 252.9V258.6 M149.5 249.9V255.4 M151.5 250.2V253.5 M152.5 248.1V253.4 M155.5 249.3V252.0 M155.5 249.1V252.6 M157.5 246.8V251.0 M159.5 247.5V250.5 M161.5 250.6V256.1 M162.5 256.9V260.6 M164.5 260.9V264.7 M164.5 263.8V268.3 M166.5 267.2V270.4 M169.5 267.1V271.0 M170.5 266.1V269.9 M171.5 268.9V273.9 M173.5 268.8V273.7 M174.5 269.7V275.3 M177.5 270.5V275.7 M177.5 270.5V275.9 M180.5 271.0V275.9 M181.5 269.9V274.4 M183.5 268.6V271.4 M184.5 266.7V269.9 M184.5 265.6V271.0 M188.5 263.1V267.6 M189.5 258.8V263.1 M191.5 256.7V262.4 M192.5 256.4V261.8 M193.5 254.9V259.6 M195.5 253.4V257.4 M196.5 251.5V255.7 M199.5 250.0V253.1 M200.5 248.2V252.5 M202.5 246.3V249.4 M204.5 244.5V248.8 M204.5 244.5V248.0" stroke="#000" stroke-width="1.1" fill="none"/>
<path d="M42.0 214.0V222.0 M46.0 215.0V223.0 M50.0 215.0V223.0 M40.0 212.5V218.6 M41.6 217.1V221.4 M43.3 211.7V221.1 M44.7 216.2V223.8 M46.0 217.2V224.2 M47.7 215.2V223.4 M49.2 213.8V222.5 M50.7 217.6V225.6 M52.5 216.9V223.4" stroke="#1a1a1a" stroke-width="0.9" fill="none"/>
</g>
<g clip-path="url(#cr2)">
<path d="M270.0 227.9 L270.0 227.0 L271.2 226.9 L272.0 224.0 L272.2 227.5 L273.0 226.3 L274.0 229.0 L274.0 225.5 L275.2 228.5 L276.0 225.0 L276.1 226.0 L277.2 226.0 L278.0 230.0 L278.4 227.8 L279.4 225.1 L280.0 226.0 L280.6 230.6 L281.5 228.0 L282.0 232.0 L282.5 228.3 L283.4 233.5 L284.0 232.0 L284.0 231.0 L285.0 237.1 L285.0 236.0 L286.3 236.6 L287.3 236.7 L288.0 239.0 L288.6 242.5 L289.7 242.9 L290.0 244.8 L290.0 243.3 L291.5 242.9 L292.0 245.4 L293.0 249.7 L293.0 248.7 L294.3 244.3 L295.0 242.6 L295.4 242.2 L296.4 239.9 L297.0 235.4 L297.6 237.2 L298.9 237.2 L299.0 239.7 L300.2 240.2 L301.0 237.6 L301.7 239.4 L303.0 239.2 L303.0 241.0 L304.2 242.9 L305.9 239.9 L305.0 240.0 L304.3 242.4 L306.0 244.0 L307.2 249.5 L306.5 247.3 L307.5 250.0 L309.5 252.6 L309.0 256.0 L310.3 257.7 L310.0 258.3 L310.5 261.0 L312.7 261.2 L312.0 262.3 L312.0 266.0 L313.9 267.4 L313.5 270.0 L314.1 269.1 L315.8 271.6 L315.0 274.0 L317.1 277.1 L317.4 273.1 L316.5 275.5 L317.8 275.7 L317.9 274.7 L318.0 272.0 L319.5 271.0 L319.0 267.0 L317.9 262.6 L320.0 260.0 L320.8 257.8 L319.6 254.7 L321.0 253.0 L320.1 250.3 L322.0 249.0 L321.6 248.9 L324.5 249.2 L323.0 251.0 L323.3 251.9 L324.5 256.0 L322.7 255.6 L324.6 259.7 L326.0 263.0 L325.9 265.8 L325.6 267.0 L327.5 270.0 L329.7 274.1 L326.6 276.8 L329.0 276.0 L328.0 277.4 L330.1 277.5 L330.5 278.5 L330.6 280.9 L332.0 277.5 L331.1 278.1 L332.1 277.8 L333.5 279.0 L333.5 277.4 L333.6 276.1 L335.0 275.0 L335.5 271.2 L335.3 273.5 L336.2 273.0 L337.0 270.0 L338.2 268.5 L337.7 267.2 L339.0 264.0 L339.3 262.2 L340.3 262.6 L342.3 258.7 L341.0 258.0 L342.6 253.9 L342.8 256.0 L343.0 253.0 L342.8 251.8 L345.3 249.6 L344.6 250.0 L345.0 248.5 L344.3 249.8 L345.9 246.1 L347.0 245.5 L345.7 247.0 L348.0 245.4 L349.0 243.5 L350.5 243.8 L351.0 242.0 L352.4 242.3 L353.0 241.0 L355.1 240.9 L356.0 239.9 L357.8 238.8 L359.8 240.1 L360.0 239.7 L362.0 239.9 L363.0 241.9 L364.5 244.1 L366.0 244.0 L366.6 244.1 L368.8 241.7 L370.0 242.6 L371.2 243.1 L373.6 243.4 L375.0 244.7 L376.2 244.4 L378.3 244.5 L380.0 243.3 L380.8 241.3 L382.7 240.8 L385.0 237.8 L385.0 238.3 L387.5 235.2 L390.0 233.9 L390.0 234.7 L392.4 233.9 L394.6 230.6 L395.0 231.1 L396.8 226.0 L397.0 225.7 L399.2 228.5 L400.0 228.3 L401.5 228.4 L403.7 226.6 L405.0 227.6 L405.6 228.5 L407.4 226.6 L409.7 225.7 L410.0 225.7 L411.6 228.8 L413.0 232.0 L413.6 231.9 L415.0 234.0 L415.7 233.3 L418.4 234.1 L420.0 234.7 L420.9 235.9 L422.0 236.9 L423.0 239.0 L424.0 242.0 L425.0 246.9 L425.9 246.9 L428.0 247.7 L430.0 248.3 L430.5 247.2 L433.2 248.3 L435.0 247.6 L435.1 246.3 L437.0 248.6 L439.1 248.1 L440.0 249.7 L441.4 250.8 L443.3 248.9 L445.0 249.0 L445.5 248.6 L448.3 248.9 L450.0 250.4 L450.6 249.1 L452.9 251.3 L455.0 248.3 L455.0 249.7 L457.3 250.0 L460.0 251.1 L460.0 250.5 L462.0 248.8 L464.6 249.5 L465.0 248.3 L466.5 249.7 L468.9 253.1 L470.0 255.4 L470.8 254.1 L472.7 253.7 L475.0 253.4 L475.0 252.6 L477.8 239.6 L478.0 238.3 L480.0 215.7 L480.6 221.7 L482.0 235.4 L483.3 247.0 L484.0 252.6 L486.0 256.9 L486.1 256.0 L488.0 245.4 L488.2 244.5 L490.0 242.6 L490.9 244.6 L492.0 248.3 L493.6 246.1 L494.0 245.4 L495.7 236.3 L496.0 235.4 L498.0 213.0 L498.5 216.8 L500.0 224.0" fill="none" stroke="#000" stroke-width="1.4" stroke-linejoin="round"/>
<path d="M273.5 220.0V233.0 M277.5 221.0V234.0 M281.5 223.0V236.0 M285.5 224.0V242.0 M293.5 239.0V254.0 M297.5 229.0V246.0 M300.5 232.0V246.0 M352.5 230.0V263.0 M357.5 229.0V250.0 M359.5 219.0V250.0 M364.5 228.6V259.7 M370.5 230.0V254.0 M374.5 228.6V264.0 M377.5 229.3V258.3 M380.5 230.0V251.0 M385.5 226.4V251.9 M388.5 227.9V246.9 M393.5 225.0V244.0 M396.5 218.0V245.4 M399.5 223.6V239.0 M401.5 220.0V236.0 M404.5 220.7V236.0 M409.5 220.0V234.0 M412.5 225.0V239.0 M415.5 227.0V238.0 M418.5 227.0V240.0 M421.5 228.0V241.0 M425.5 238.0V270.0 M435.5 237.0V258.0 M444.5 239.0V261.0 M452.5 238.0V262.0 M462.5 237.0V264.0 M466.5 236.0V264.0 M480.5 203.6V265.0 M485.5 244.0V265.0 M487.5 239.0V268.0 M490.5 234.0V257.0 M495.5 229.0V254.0 M498.5 213.0V252.6 M270.5 223.1V232.6 M271.5 224.4V229.4 M272.5 222.4V232.6 M273.5 222.3V230.3 M274.5 222.3V228.8 M275.5 223.7V233.2 M276.5 223.6V228.4 M277.5 220.6V231.3 M278.5 223.8V231.8 M279.5 220.6V229.5 M280.5 227.1V234.1 M281.5 224.7V231.3 M282.5 224.8V231.7 M283.5 230.2V236.9 M284.5 228.0V236.0 M284.5 235.3V238.9 M286.5 234.8V238.5 M287.5 234.5V238.9 M288.5 239.9V245.0 M289.5 240.8V244.9 M290.5 242.3V247.3 M291.5 238.6V247.1 M293.5 244.7V252.8 M294.5 241.7V247.0 M295.5 239.3V245.1 M296.5 236.3V243.5 M297.5 233.4V240.9 M298.5 234.7V239.7 M300.5 235.6V244.8 M301.5 236.7V242.1 M302.5 235.9V242.5 M304.5 237.6V248.2 M305.5 237.5V242.3 M304.5 240.1V244.6 M307.5 247.1V252.0 M306.5 244.3V250.3 M309.5 249.6V255.5 M310.5 255.5V259.9 M310.5 255.4V261.2 M312.5 258.5V264.0 M311.5 260.3V264.3 M313.5 264.7V270.2 M314.5 266.3V272.0 M315.5 268.4V274.7 M317.5 274.7V279.6 M317.5 269.8V276.3 M317.5 272.9V278.6 M317.5 271.9V277.4 M319.5 268.3V273.7 M317.5 260.2V264.9 M320.5 255.1V260.5 M319.5 253.1V256.3 M320.5 248.4V252.1 M321.5 246.3V251.6 M324.5 247.7V250.7 M323.5 250.2V253.6 M322.5 252.9V258.2 M324.5 257.1V262.3 M325.5 262.7V268.8 M325.5 264.4V269.6 M329.5 271.5V276.8 M326.5 275.1V278.5 M327.5 274.7V280.1 M330.5 275.6V279.4 M330.5 277.6V284.2 M331.5 274.8V281.4 M332.5 274.5V281.2 M333.5 275.7V279.2 M333.5 273.2V279.1 M335.5 269.2V273.2 M335.5 271.5V275.5 M336.5 270.3V275.6 M338.5 265.6V271.4 M337.5 264.7V269.7 M339.5 259.8V264.5 M340.5 261.0V264.2 M342.5 255.5V261.9 M342.5 251.6V256.2 M342.5 253.6V258.4 M342.5 248.7V254.9 M345.5 248.0V251.3 M344.5 247.9V252.0 M344.5 247.4V252.2 M345.5 244.4V247.9 M345.5 245.0V248.9 M348.5 238.6V252.2 M350.5 231.4V256.2 M352.5 230.4V254.3 M355.5 231.9V249.9 M357.5 228.7V248.8 M359.5 232.6V247.6 M361.5 228.5V251.2 M364.5 233.9V254.2 M366.5 229.7V258.4 M368.5 233.8V249.5 M371.5 232.0V254.3 M373.5 234.7V252.1 M376.5 235.9V253.0 M378.5 232.0V257.0 M380.5 233.9V248.6 M382.5 227.0V254.7 M385.5 233.4V242.1 M387.5 226.0V244.4 M389.5 224.6V243.2 M392.5 226.4V241.4 M394.5 223.2V238.0 M396.5 217.5V234.6 M399.5 219.8V237.2 M401.5 220.3V236.5 M403.5 221.3V231.8 M405.5 220.4V236.7 M407.5 219.1V234.0 M409.5 220.7V230.7 M411.5 220.0V237.6 M413.5 226.8V236.9 M415.5 228.9V237.7 M418.5 226.3V241.9 M420.5 231.1V240.7 M422.5 225.5V248.4 M423.5 234.3V249.7 M425.5 238.1V255.6 M428.5 236.2V259.1 M430.5 236.2V258.3 M433.5 235.0V261.6 M435.5 237.2V255.4 M436.5 238.7V258.5 M439.5 235.4V260.9 M441.5 243.0V258.6 M443.5 241.0V256.8 M445.5 242.3V254.8 M448.5 239.9V258.0 M450.5 242.3V255.9 M452.5 238.8V263.7 M454.5 238.6V257.9 M457.5 238.5V261.4 M460.5 238.3V262.7 M462.5 242.1V255.5 M464.5 242.5V256.5 M466.5 240.5V258.9 M468.5 241.8V264.3 M470.5 245.3V262.9 M472.5 242.0V265.3" stroke="#000" stroke-width="1.1" fill="none"/>
<path d="" stroke="#1a1a1a" stroke-width="0.9" fill="none"/>
</g>
<g clip-path="url(#cl0)"><polyline points="66.4,58.9 75.0,60.8 83.0,62.4 92.0,63.2 100.0,63.0 110.0,61.6 120.0,60.0 135.0,57.5 160.0,53.2 185.0,50.5 215.0,48.9 233.6,48.4" fill="none" stroke="#1b6fdd" stroke-width="2.9" stroke-linejoin="round" stroke-linecap="round"/>
<polyline points="66.4,54.6 75.0,57.5 88.6,61.4 100.0,64.5 110.0,66.1 125.0,65.9 140.0,63.8 155.0,60.6 170.0,58.0 185.0,56.0 200.0,53.5 215.0,51.2 233.6,49.5" fill="none" stroke="#e3101c" stroke-width="2.9" stroke-linejoin="round" stroke-linecap="round"/></g>
<g clip-path="url(#cr0)"><polyline points="270.0,54.7 280.0,57.8 290.0,63.2 295.0,66.3 300.0,68.7 305.0,69.8 310.0,69.8 315.0,68.6 330.0,62.4 345.0,58.7 360.0,56.4 380.0,56.6 395.0,57.0 410.0,59.0 425.0,62.5 440.0,64.3 470.0,65.0 498.0,63.0" fill="none" stroke="#e3101c" stroke-width="2.9" stroke-linejoin="round" stroke-linecap="round"/>
<polyline points="270.0,58.2 280.0,61.7 290.0,66.0 295.0,67.5 300.0,67.9 305.0,66.7 310.0,64.4 320.0,61.4 330.0,57.8 345.0,55.0 360.0,54.2 400.0,54.5 415.0,55.7 430.0,57.9 450.0,59.3 470.0,60.0 498.0,58.6" fill="none" stroke="#1b6fdd" stroke-width="2.9" stroke-linejoin="round" stroke-linecap="round"/></g>
<g clip-path="url(#cl1)"><polyline points="66.0,143.5 90.0,145.5 110.0,149.0 120.0,158.0 128.0,166.0 135.0,163.0 140.0,160.0 147.0,162.0 155.0,160.0 165.0,166.0 175.0,174.0 181.0,178.0 186.0,175.0 192.0,166.0 200.0,156.0 210.0,152.0 236.0,144.5" fill="none" stroke="#f0802a" stroke-width="3.7" stroke-linejoin="round" stroke-linecap="round"/>
<polyline points="66.0,150.0 90.0,151.4 110.0,150.5 120.0,151.4 130.0,154.3 135.0,157.9 140.0,162.9 145.0,165.7 150.0,165.7 155.0,162.9 158.0,160.5 162.0,161.0 167.0,164.0 172.0,165.0 178.0,167.0 183.0,171.0 188.0,173.6 192.0,174.3 196.0,172.9 200.0,169.3 205.0,164.3 210.0,158.6 215.0,159.7 220.0,158.9 225.0,156.5 236.0,153.2" fill="none" stroke="#e21ee2" stroke-width="3.7" stroke-linejoin="round" stroke-linecap="round"/>
<polyline points="66.0,144.3 90.0,146.4 110.0,150.0 115.0,155.7 120.0,161.4 125.0,167.1 130.0,170.7 135.0,172.1 140.0,170.0 145.0,164.3 150.0,160.7 153.0,162.1 158.0,165.7 163.0,168.6 170.0,172.9 175.0,175.5 178.0,178.5 180.0,179.3 183.0,178.0 186.0,174.0 189.0,168.0 192.0,162.5 196.0,158.0 200.0,155.5 205.0,153.6 210.0,153.0 220.0,149.0 236.0,145.0" fill="none" stroke="#1b6fdd" stroke-width="3.7" stroke-linejoin="round" stroke-linecap="round"/>
<polyline points="66.0,142.1 90.0,144.3 105.0,145.7 110.0,148.0 115.0,153.0 120.0,159.0 125.0,165.7 128.0,167.9 132.0,165.7 136.0,160.0 140.0,155.7 143.0,156.4 146.0,158.6 150.0,158.0 155.0,158.5 160.0,163.0 165.0,167.9 170.0,171.4 175.0,176.5 178.0,179.5 181.5,181.8 185.0,180.5 188.0,177.0 191.0,171.0 194.0,164.5 197.0,159.0 200.0,156.0 205.0,152.5 210.0,151.6 220.0,146.7 230.0,144.3 236.0,143.5" fill="none" stroke="#7a1ee6" stroke-width="3.7" stroke-linejoin="round" stroke-linecap="round"/></g>
<g clip-path="url(#cr1)"><polyline points="270.0,146.0 300.0,150.0 305.0,153.0 310.0,165.0 314.0,170.0 318.0,160.0 323.0,162.0 330.0,173.0 335.0,180.0 339.0,174.0 343.0,160.0 350.0,152.0 380.0,146.5 400.0,146.0 420.0,148.5 433.0,151.5 441.0,150.8 450.0,149.2 455.0,150.3 462.0,153.0 470.0,157.0 481.0,162.5 490.0,167.0 501.0,173.0" fill="none" stroke="#f0802a" stroke-width="3.7" stroke-linejoin="round" stroke-linecap="round"/>
<polyline points="270.0,151.0 280.0,151.7 290.0,153.9 300.0,155.3 305.0,155.5 310.0,156.5 315.0,158.6 320.0,162.0 325.0,165.5 330.0,168.6 335.0,172.1 338.0,172.9 341.0,170.0 345.0,165.0 350.0,162.1 355.0,160.7 360.0,158.0 380.0,154.0 400.0,152.5 420.0,152.0 433.0,153.8 441.8,155.5 448.0,157.0 455.0,160.5 463.0,160.5 471.0,159.5 482.0,157.0 492.0,156.3 501.0,157.8" fill="none" stroke="#e21ee2" stroke-width="3.7" stroke-linejoin="round" stroke-linecap="round"/>
<polyline points="270.0,148.1 290.0,150.3 300.0,152.4 305.0,156.0 308.0,164.3 311.0,171.4 314.0,174.0 317.0,172.1 320.0,168.6 323.0,166.4 326.0,168.6 330.0,173.6 333.0,178.6 336.0,180.7 338.0,178.6 340.0,171.4 343.0,162.9 346.0,157.1 350.0,154.3 365.0,150.7 400.0,149.2 420.0,149.3 429.3,153.0 436.8,157.3 442.4,159.6 448.0,160.0 452.7,158.7 457.4,156.8 462.0,155.6 470.0,155.0 480.0,157.0 490.0,159.5 501.0,161.5" fill="none" stroke="#1b6fdd" stroke-width="3.7" stroke-linejoin="round" stroke-linecap="round"/>
<polyline points="270.0,146.7 280.0,147.1 290.0,148.9 300.0,151.0 305.0,154.3 308.0,162.9 311.0,168.6 313.0,170.7 316.0,165.7 318.0,160.7 320.0,159.3 323.0,161.4 326.0,166.4 330.0,173.6 333.0,178.6 335.0,181.4 337.0,180.0 339.0,174.3 341.0,165.7 343.0,160.0 346.0,155.7 350.0,153.6 355.0,151.4 360.0,150.0 380.0,147.0 400.0,147.0 420.0,148.9 427.5,151.2 434.0,155.4 438.7,157.3 443.4,156.4 448.0,154.0 452.7,153.6 457.4,155.0 462.5,158.0 471.0,160.6 480.0,164.3 490.0,167.4 501.0,169.3" fill="none" stroke="#7a1ee6" stroke-width="3.7" stroke-linejoin="round" stroke-linecap="round"/></g>
<g clip-path="url(#cl2)"><polyline points="118.5,232.7 236.0,232.3" fill="none" stroke="#7020e0" stroke-width="2.6" stroke-linejoin="round" stroke-linecap="round"/>
<polyline points="67.0,239.0 80.0,245.0 90.0,249.0 100.0,251.5 110.0,252.3 120.0,251.7 130.0,251.0 140.0,250.8 150.0,248.7 165.0,246.0 180.0,244.7 200.0,243.3 220.0,242.7 236.0,242.7" fill="none" stroke="#e21ee2" stroke-width="3.8" stroke-linejoin="round" stroke-linecap="round"/>
<polyline points="67.0,233.0 72.0,236.3 80.0,242.3 86.0,247.0 92.0,249.7 98.0,250.3 104.0,248.3 110.0,246.3 115.0,246.3 120.0,248.3 125.0,249.0 130.0,247.7 135.0,248.3 140.0,249.7 145.0,251.5 150.0,252.5 155.0,251.5 160.0,247.0 165.0,243.0 170.0,240.6 180.0,241.0 190.0,239.7 200.0,240.5 205.0,239.7 210.0,235.4 220.0,234.0 236.0,233.5" fill="none" stroke="#e3101c" stroke-width="3.8" stroke-linejoin="round" stroke-linecap="round"/>
<polyline points="67.0,239.7 75.0,241.7 82.0,244.3 88.0,247.0 93.0,247.0 97.0,243.7 102.0,240.3 107.0,237.7 112.0,236.7 116.0,237.7 120.0,240.0 125.0,242.0" fill="none" stroke="#7020e0" stroke-width="3.8" stroke-linejoin="round" stroke-linecap="round"/>
<polyline points="67.0,235.7 72.0,238.3 78.0,242.3 84.0,247.7 90.0,252.3 95.0,254.3 100.0,253.7 104.0,251.0 108.0,246.3 112.0,242.3 115.0,241.3 118.0,242.3 122.0,245.7 125.0,246.3 128.0,244.3 131.0,242.3 134.0,242.3 138.0,245.0 142.0,248.5 146.0,251.0 150.0,252.5 154.0,252.8 157.0,250.7 161.0,245.3 166.7,241.3 171.0,242.0 176.0,243.3 180.0,242.0 186.7,240.0 191.0,241.5 196.0,244.0 199.0,243.5 202.7,241.3 207.0,238.0 212.0,235.5 218.0,233.8 226.0,233.0 236.0,232.8" fill="none" stroke="#1414c8" stroke-width="3.8" stroke-linejoin="round" stroke-linecap="round"/>
<polyline points="67.0,235.8 75.0,234.2 90.0,233.2 105.0,233.3 115.0,234.0 120.0,234.8 125.0,236.2 130.0,239.0 133.0,242.3 136.0,245.0 140.0,247.5 145.0,249.3 150.0,250.0 155.0,252.0 160.0,255.3 165.0,260.0 170.0,264.7 175.0,268.7 180.0,272.0 185.0,274.0 190.0,274.4 195.0,273.3 200.0,270.0 205.0,265.3 210.0,259.3 215.0,254.0 220.0,249.5 226.0,247.5 236.0,246.8" fill="none" stroke="#22e622" stroke-width="3.8" stroke-linejoin="round" stroke-linecap="round"/></g>
<g clip-path="url(#cr2)"><polyline points="270.0,238.0 285.0,242.3 290.0,247.0 293.0,250.8 296.0,251.3 299.0,247.6 302.0,244.4 305.0,243.4" fill="none" stroke="#7020e0" stroke-width="3.8" stroke-linejoin="round" stroke-linecap="round"/>
<polyline points="300.0,238.2 425.0,237.8" fill="none" stroke="#7020e0" stroke-width="2.6" stroke-linejoin="round" stroke-linecap="round"/>
<polyline points="270.0,239.0 290.0,246.0 296.0,250.0 305.0,250.0 320.0,252.0 335.0,249.0 345.0,247.6 355.0,246.8 370.0,246.5 380.0,244.0 400.0,243.0 430.0,243.0 460.0,244.5 480.0,248.5 500.0,252.5" fill="none" stroke="#e21ee2" stroke-width="3.8" stroke-linejoin="round" stroke-linecap="round"/>
<polyline points="270.0,238.0 285.0,241.0 290.0,246.9 293.0,251.9 296.0,255.0 300.0,253.1 305.0,251.9 310.0,254.0 315.0,252.3 320.0,255.4 325.0,256.9 330.0,252.0 340.0,248.0 350.0,245.0 365.0,242.5 400.0,241.5 420.0,241.2 435.0,241.2 460.0,244.0 480.0,248.5 500.0,253.5" fill="none" stroke="#e3101c" stroke-width="3.8" stroke-linejoin="round" stroke-linecap="round"/>
<polyline points="270.0,238.6 280.0,239.1 285.0,241.2 288.0,245.0 290.0,249.2 292.0,253.4 294.0,257.1 296.0,258.7 298.0,257.7 300.0,253.4 302.0,249.7 304.0,248.1 306.0,249.2 308.0,251.3 310.0,250.5 314.0,248.5 317.0,250.0 320.0,251.5 325.0,248.4 330.0,246.8 335.0,243.7 340.0,244.5 343.0,248.0 346.0,246.8 350.0,242.3 355.0,241.2 360.0,240.6 370.0,240.2 400.0,239.7 435.0,239.6 450.0,241.0 460.0,243.4 470.0,245.7 480.0,248.0 490.0,250.4 500.0,252.0" fill="none" stroke="#1414c8" stroke-width="3.8" stroke-linejoin="round" stroke-linecap="round"/>
<polyline points="270.0,241.3 280.0,241.3 290.0,240.3 300.0,239.0 305.0,238.8 310.0,240.5 313.0,243.0 316.0,247.0 318.0,250.5 320.0,253.0 325.0,257.0 328.0,261.8 331.0,268.4 334.0,273.5 337.0,276.5 340.0,277.2 343.0,275.0 345.0,269.9 347.0,264.0 350.0,258.2 353.0,254.5 358.0,252.3 365.0,250.9 370.0,250.0 380.0,248.0 400.0,245.7 420.0,244.1 435.0,243.8 460.0,244.0 497.0,241.8" fill="none" stroke="#22e622" stroke-width="3.8" stroke-linejoin="round" stroke-linecap="round"/></g>
<path d="M39.8 16.6 H501.2 M39.8 108.4 H501.2 M39.8 200.4 H501.2 M39.8 292.3 H501.2 M40.5 16 V293 M270.5 16 V293 M500.5 16 V293" stroke="#000" stroke-width="1.4" fill="none"/>
<path d="M83.5 16.6v2.8 M83.5 108.4v-2.8 M127.5 16.6v4.6 M127.5 108.4v-4.6 M170.5 16.6v2.8 M170.5 108.4v-2.8 M214.5 16.6v4.6 M214.5 108.4v-4.6 M257.5 16.6v2.8 M257.5 108.4v-2.8 M40.5 30.5h2.8 M270.5 30.5h-2.8 M40.5 48.5h4.8 M270.5 48.5h-4.8 M40.5 65.5h2.8 M270.5 65.5h-2.8 M40.5 83.5h4.8 M270.5 83.5h-4.8 M40.5 101.5h2.8 M270.5 101.5h-2.8 M290.5 16.6v2.8 M290.5 108.4v-2.8 M310.5 16.6v4.6 M310.5 108.4v-4.6 M330.5 16.6v2.8 M330.5 108.4v-2.8 M350.5 16.6v2.8 M350.5 108.4v-2.8 M370.5 16.6v2.8 M370.5 108.4v-2.8 M391.5 16.6v2.8 M391.5 108.4v-2.8 M411.5 16.6v4.6 M411.5 108.4v-4.6 M431.5 16.6v2.8 M431.5 108.4v-2.8 M451.5 16.6v2.8 M451.5 108.4v-2.8 M471.5 16.6v2.8 M471.5 108.4v-2.8 M492.5 16.6v2.8 M492.5 108.4v-2.8 M270.5 21.5h4.8 M500.5 21.5h-4.8 M270.5 37.5h2.8 M500.5 37.5h-2.8 M270.5 53.5h4.8 M500.5 53.5h-4.8 M270.5 69.5h2.8 M500.5 69.5h-2.8 M270.5 86.5h4.8 M500.5 86.5h-4.8 M270.5 102.5h2.8 M500.5 102.5h-2.8 M83.5 108.4v2.8 M83.5 200.4v-2.8 M127.5 108.4v4.6 M127.5 200.4v-4.6 M170.5 108.4v2.8 M170.5 200.4v-2.8 M214.5 108.4v4.6 M214.5 200.4v-4.6 M257.5 108.4v2.8 M257.5 200.4v-2.8 M40.5 122.5h2.8 M270.5 122.5h-2.8 M40.5 140.5h4.8 M270.5 140.5h-4.8 M40.5 157.5h2.8 M270.5 157.5h-2.8 M40.5 175.5h4.8 M270.5 175.5h-4.8 M40.5 193.5h2.8 M270.5 193.5h-2.8 M290.5 108.4v2.8 M290.5 200.4v-2.8 M310.5 108.4v4.6 M310.5 200.4v-4.6 M330.5 108.4v2.8 M330.5 200.4v-2.8 M350.5 108.4v2.8 M350.5 200.4v-2.8 M370.5 108.4v2.8 M370.5 200.4v-2.8 M391.5 108.4v2.8 M391.5 200.4v-2.8 M411.5 108.4v4.6 M411.5 200.4v-4.6 M431.5 108.4v2.8 M431.5 200.4v-2.8 M451.5 108.4v2.8 M451.5 200.4v-2.8 M471.5 108.4v2.8 M471.5 200.4v-2.8 M492.5 108.4v2.8 M492.5 200.4v-2.8 M270.5 113.5h4.8 M500.5 113.5h-4.8 M270.5 129.5h2.8 M500.5 129.5h-2.8 M270.5 145.5h4.8 M500.5 145.5h-4.8 M270.5 161.5h2.8 M500.5 161.5h-2.8 M270.5 178.5h4.8 M500.5 178.5h-4.8 M270.5 194.5h2.8 M500.5 194.5h-2.8 M83.5 200.4v2.8 M83.5 292.3v-2.8 M127.5 200.4v4.6 M127.5 292.3v-4.6 M170.5 200.4v2.8 M170.5 292.3v-2.8 M214.5 200.4v4.6 M214.5 292.3v-4.6 M257.5 200.4v2.8 M257.5 292.3v-2.8 M40.5 214.5h2.8 M270.5 214.5h-2.8 M40.5 232.5h4.8 M270.5 232.5h-4.8 M40.5 249.5h2.8 M270.5 249.5h-2.8 M40.5 267.5h4.8 M270.5 267.5h-4.8 M40.5 285.5h2.8 M270.5 285.5h-2.8 M290.5 200.4v2.8 M290.5 292.3v-2.8 M310.5 200.4v4.6 M310.5 292.3v-4.6 M330.5 200.4v2.8 M330.5 292.3v-2.8 M350.5 200.4v2.8 M350.5 292.3v-2.8 M370.5 200.4v2.8 M370.5 292.3v-2.8 M391.5 200.4v2.8 M391.5 292.3v-2.8 M411.5 200.4v4.6 M411.5 292.3v-4.6 M431.5 200.4v2.8 M431.5 292.3v-2.8 M451.5 200.4v2.8 M451.5 292.3v-2.8 M471.5 200.4v2.8 M471.5 292.3v-2.8 M492.5 200.4v2.8 M492.5 292.3v-2.8 M270.5 205.5h4.8 M500.5 205.5h-4.8 M270.5 221.5h2.8 M500.5 221.5h-2.8 M270.5 237.5h4.8 M500.5 237.5h-4.8 M270.5 253.5h2.8 M500.5 253.5h-2.8 M270.5 270.5h4.8 M500.5 270.5h-4.8 M270.5 286.5h2.8 M500.5 286.5h-2.8" stroke="#000" stroke-width="1.25" fill="none"/>
<text x="154.7" y="12.3" font-size="14.5" font-family='"Liberation Sans", sans-serif' fill="#000" text-anchor="middle" textLength="40.0" lengthAdjust="spacingAndGlyphs" stroke="#000" stroke-width="0.20">10<tspan font-style="italic">&#956;</tspan>m</text>
<text x="385.3" y="12.5" font-size="14.5" font-family='"Liberation Sans", sans-serif' fill="#000" text-anchor="middle" textLength="24.0" lengthAdjust="spacingAndGlyphs" stroke="#000" stroke-width="0.20">Full</text>
<text x="206.0" y="316.5" font-size="14.0" font-family='"Liberation Sans", sans-serif' fill="#000" textLength="130.0" lengthAdjust="spacingAndGlyphs" stroke="#000" stroke-width="0.10">Wavelength (<tspan font-style="italic">&#956;</tspan>m)</text>
<text x="11.8" y="154.5" font-size="14.0" font-family='"Liberation Sans", sans-serif' fill="#000" text-anchor="middle" textLength="120.0" lengthAdjust="spacingAndGlyphs" stroke="#000" stroke-width="0.10" transform="rotate(-90 11.8 154.5)">Normalized Flux</text>
<text x="40.0" y="303.3" font-size="9.5" font-family='"Liberation Sans", sans-serif' fill="#000" text-anchor="middle" stroke="#000" stroke-width="0.30">8</text>
<text x="127.0" y="303.3" font-size="9.5" font-family='"Liberation Sans", sans-serif' fill="#000" text-anchor="middle" stroke="#000" stroke-width="0.30">10</text>
<text x="214.0" y="303.3" font-size="9.5" font-family='"Liberation Sans", sans-serif' fill="#000" text-anchor="middle" stroke="#000" stroke-width="0.30">12</text>
<text x="310.8" y="303.3" font-size="9.5" font-family='"Liberation Sans", sans-serif' fill="#000" text-anchor="middle" stroke="#000" stroke-width="0.30">10</text>
<text x="411.3" y="303.3" font-size="9.5" font-family='"Liberation Sans", sans-serif' fill="#000" text-anchor="middle" stroke="#000" stroke-width="0.30">15</text>
<text x="34.6" y="48.0" font-size="10.0" font-family='"Liberation Sans", sans-serif' fill="#000" text-anchor="middle" stroke="#000" stroke-width="0.30" transform="rotate(-90 34.6 48.0)">1</text>
<text x="34.6" y="83.4" font-size="10.0" font-family='"Liberation Sans", sans-serif' fill="#000" text-anchor="middle" stroke="#000" stroke-width="0.30" transform="rotate(-90 34.6 83.4)">0.8</text>
<text x="512.8" y="21.0" font-size="10.0" font-family='"Liberation Sans", sans-serif' fill="#000" text-anchor="middle" stroke="#000" stroke-width="0.30" transform="rotate(-90 512.8 21.0)">1.2</text>
<text x="512.8" y="53.6" font-size="10.0" font-family='"Liberation Sans", sans-serif' fill="#000" text-anchor="middle" stroke="#000" stroke-width="0.30" transform="rotate(-90 512.8 53.6)">1</text>
<text x="512.8" y="86.2" font-size="10.0" font-family='"Liberation Sans", sans-serif' fill="#000" text-anchor="middle" stroke="#000" stroke-width="0.30" transform="rotate(-90 512.8 86.2)">0.8</text>
<text x="34.6" y="140.0" font-size="10.0" font-family='"Liberation Sans", sans-serif' fill="#000" text-anchor="middle" stroke="#000" stroke-width="0.30" transform="rotate(-90 34.6 140.0)">1</text>
<text x="34.6" y="175.4" font-size="10.0" font-family='"Liberation Sans", sans-serif' fill="#000" text-anchor="middle" stroke="#000" stroke-width="0.30" transform="rotate(-90 34.6 175.4)">0.8</text>
<text x="512.8" y="113.0" font-size="10.0" font-family='"Liberation Sans", sans-serif' fill="#000" text-anchor="middle" stroke="#000" stroke-width="0.30" transform="rotate(-90 512.8 113.0)">1.2</text>
<text x="512.8" y="145.6" font-size="10.0" font-family='"Liberation Sans", sans-serif' fill="#000" text-anchor="middle" stroke="#000" stroke-width="0.30" transform="rotate(-90 512.8 145.6)">1</text>
<text x="512.8" y="178.2" font-size="10.0" font-family='"Liberation Sans", sans-serif' fill="#000" text-anchor="middle" stroke="#000" stroke-width="0.30" transform="rotate(-90 512.8 178.2)">0.8</text>
<text x="34.6" y="232.0" font-size="10.0" font-family='"Liberation Sans", sans-serif' fill="#000" text-anchor="middle" stroke="#000" stroke-width="0.30" transform="rotate(-90 34.6 232.0)">1</text>
<text x="34.6" y="267.4" font-size="10.0" font-family='"Liberation Sans", sans-serif' fill="#000" text-anchor="middle" stroke="#000" stroke-width="0.30" transform="rotate(-90 34.6 267.4)">0.8</text>
<text x="512.8" y="205.0" font-size="10.0" font-family='"Liberation Sans", sans-serif' fill="#000" text-anchor="middle" stroke="#000" stroke-width="0.30" transform="rotate(-90 512.8 205.0)">1.2</text>
<text x="512.8" y="237.6" font-size="10.0" font-family='"Liberation Sans", sans-serif' fill="#000" text-anchor="middle" stroke="#000" stroke-width="0.30" transform="rotate(-90 512.8 237.6)">1</text>
<text x="512.8" y="270.2" font-size="10.0" font-family='"Liberation Sans", sans-serif' fill="#000" text-anchor="middle" stroke="#000" stroke-width="0.30" transform="rotate(-90 512.8 270.2)">0.8</text>
<text x="47.3" y="106.4" font-size="11.6" font-family='"Liberation Sans", sans-serif' fill="#000" font-weight="bold" textLength="22.5" lengthAdjust="spacingAndGlyphs">LAB.</text>
<text x="76.6" y="106.4" font-size="11.6" font-family='"Liberation Sans", sans-serif' fill="#000" font-weight="bold" textLength="68.0" lengthAdjust="spacingAndGlyphs">AMORHPOUS</text>
<text x="47.5" y="197.2" font-size="11.6" font-family='"Liberation Sans", sans-serif' fill="#000" font-weight="bold" textLength="22.5" lengthAdjust="spacingAndGlyphs">LAB.</text>
<text x="76.6" y="197.2" font-size="11.6" font-family='"Liberation Sans", sans-serif' fill="#000" font-weight="bold" textLength="69.8" lengthAdjust="spacingAndGlyphs">CRYSTALLINE</text>
<text x="152.4" y="197.2" font-size="11.6" font-family='"Liberation Sans", sans-serif' fill="#000" font-weight="bold" textLength="24.5" lengthAdjust="spacingAndGlyphs">OLIV.</text>
<text x="47.5" y="289.3" font-size="11.6" font-family='"Liberation Sans", sans-serif' fill="#000" font-weight="bold" textLength="22.5" lengthAdjust="spacingAndGlyphs">LAB.</text>
<text x="76.6" y="289.3" font-size="11.6" font-family='"Liberation Sans", sans-serif' fill="#000" font-weight="bold" textLength="69.5" lengthAdjust="spacingAndGlyphs">CRYSTALLINE</text>
<text x="152.0" y="289.3" font-size="11.6" font-family='"Liberation Sans", sans-serif' fill="#000" font-weight="bold" textLength="44.5" lengthAdjust="spacingAndGlyphs">(OTHER)</text>
<text x="520.2" y="94.8" font-size="10.8" font-family='"Liberation Sans", sans-serif' fill="#1b6fdd" font-weight="bold" textLength="31.0" lengthAdjust="spacingAndGlyphs">AmPyr</text>
<text x="520.2" y="107.0" font-size="10.8" font-family='"Liberation Sans", sans-serif' fill="#e3101c" font-weight="bold" textLength="32.0" lengthAdjust="spacingAndGlyphs">AmOliv</text>
<text x="520.2" y="160.9" font-size="10.8" font-family='"Liberation Sans", sans-serif' fill="#7a1ee6" font-weight="bold" textLength="31.0" lengthAdjust="spacingAndGlyphs">Olivine</text>
<text x="520.2" y="174.0" font-size="10.8" font-family='"Liberation Sans", sans-serif' fill="#1b6fdd" font-weight="bold" textLength="32.0" lengthAdjust="spacingAndGlyphs">Horton</text>
<text x="520.2" y="186.5" font-size="10.8" font-family='"Liberation Sans", sans-serif' fill="#f0802a" font-weight="bold" textLength="25.0" lengthAdjust="spacingAndGlyphs">Forst</text>
<text x="520.2" y="198.3" font-size="10.8" font-family='"Liberation Sans", sans-serif' fill="#e21ee2" font-weight="bold" textLength="37.0" lengthAdjust="spacingAndGlyphs">Fayalite</text>
<text x="520.2" y="239.9" font-size="10.8" font-family='"Liberation Sans", sans-serif' fill="#22e622" font-weight="bold" textLength="78.0" lengthAdjust="spacingAndGlyphs">GO&#8211;green&#8211;aSiC</text>
<text x="520.2" y="251.9" font-size="10.8" font-family='"Liberation Sans", sans-serif' fill="#1414c8" font-weight="bold" textLength="55.0" lengthAdjust="spacingAndGlyphs">Enstat&#8211;syn</text>
<text x="520.2" y="265.8" font-size="10.8" font-family='"Liberation Sans", sans-serif' fill="#e3101c" font-weight="bold" textLength="39.0" lengthAdjust="spacingAndGlyphs">Bronzite</text>
<text x="520.2" y="278.0" font-size="10.8" font-family='"Liberation Sans", sans-serif' fill="#7020e0" font-weight="bold" textLength="30.4" lengthAdjust="spacingAndGlyphs">AvgSil.</text>
<text x="520.2" y="290.8" font-size="10.8" font-family='"Liberation Sans", sans-serif' fill="#e21ee2" font-weight="bold" textLength="42.0" lengthAdjust="spacingAndGlyphs">AvgSerp.</text>
</svg>
</body></html>
